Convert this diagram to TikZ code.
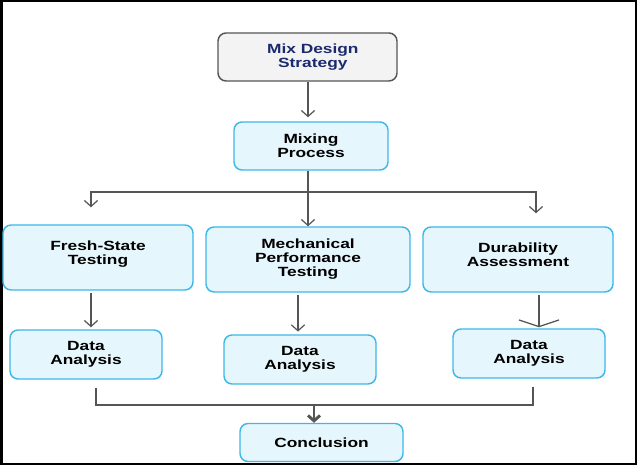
\documentclass[tikz,border=0pt]{standalone}
\usepackage{fontspec}
\setmainfont[FakeStretch=1.3]{Liberation Sans}
\usetikzlibrary{arrows.meta}
\definecolor{boxfill}{HTML}{E6F6FD}
\definecolor{boxline}{HTML}{3DB8E8}
\definecolor{topfill}{HTML}{F3F3F3}
\definecolor{topline}{HTML}{555555}
\definecolor{navy}{HTML}{1A2A6C}
\definecolor{wire}{HTML}{555555}
\tikzset{
  stage/.style={draw=boxline, fill=boxfill, line width=1.1pt, rounded corners=6pt,
    inner sep=0pt, align=center, font=\fontsize{10}{10.5}\selectfont\bfseries},
  start/.style={stage, draw=topline, fill=topfill, text=navy},
  wide/.style={minimum width=142.5pt, minimum height=48.75pt},
  small/.style={minimum width=114pt, minimum height=36.75pt},
  arr/.style={draw=wire, line width=0.9pt, -{Straight Barb[length=4.5pt,width=10pt]}},
  wire/.style={draw=wire, line width=0.9pt}
}
\begin{document}
\begin{tikzpicture}[x=0.75pt, y=-0.75pt]
      \useasboundingbox (0,0) rectangle (640,466);
      \draw[line width=1.5pt] (1.5,1.5) rectangle (636,464);
      % boxes
      \node[start, minimum width=134.25pt, minimum height=36pt] (mix) at (307.5,57) {\hspace{8pt}Mix Design\\\hspace{8pt}Strategy};
      \node[stage, minimum width=115.5pt, minimum height=36pt] (mixing) at (311,146) {Mixing\\Process};
      \node[stage, wide] (fresh) at (98,257.5) {Fresh-State\\Testing\\[-3pt]};
      \node[stage, wide, minimum width=153pt] (mech) at (308,259.5) {Mechanical\\Performance\\Testing};
      \node[stage, wide] (dur) at (518,259.5) {Durability\\Assessment\\[-3pt]};
      \node[stage, small] (da1) at (86,354.5) {Data\\Analysis};
      \node[stage, small] (da2) at (300,359.5) {Data\\Analysis};
      \node[stage, small] (da3) at (529,353.5) {Data\\Analysis};
      \node[stage, minimum width=122.25pt, minimum height=28.5pt] (concl) at (321.5,442.5) {Conclusion};
      % junctions
      \coordinate (split) at (308,192);
      \coordinate (colA) at (91,0);
      \coordinate (colB) at (298,0);
      \coordinate (colC) at (539,0);
      \coordinate (join) at (314,405);
      \coordinate (leftend) at (96,0);
      \coordinate (rightend) at (533,0);
      \draw[arr, shorten >=3pt] (mix.south -| split) -- (mixing.north -| split);
      \draw[wire] (mixing.south -| split) -- (split);
      \draw[arr, shorten >=12.75pt] (split) -| (fresh.north -| colA);
      \draw[arr] (split) -- (mech.north -| split);
      \draw[arr, shorten >=9.75pt] (split) -| (dur.north -| 536,0);
      \begin{scope}[shorten <=1.5pt]
        \draw[arr, shorten >=1.5pt] (fresh.south -| colA) -- (da1.north -| colA);
        \draw[arr, shorten >=2pt] (mech.south -| colB) -- (da2.north -| colB);
        \draw[wire, -{Straight Barb[length=5pt,width=30pt]}, shorten >=0.75pt] (dur.south -| colC) -- (da3.north -| colC);
      \end{scope}
      \draw[wire, shorten <=6pt] (da1.south -| leftend) |- (join);
      \draw[wire, shorten <=6pt] (da3.south -| rightend) |- (join);
      \draw[draw=wire, line width=2.2pt, -{Straight Barb[length=4pt,width=9pt]}] (join) -- (concl.north -| join);
    \end{tikzpicture}
\end{document}
